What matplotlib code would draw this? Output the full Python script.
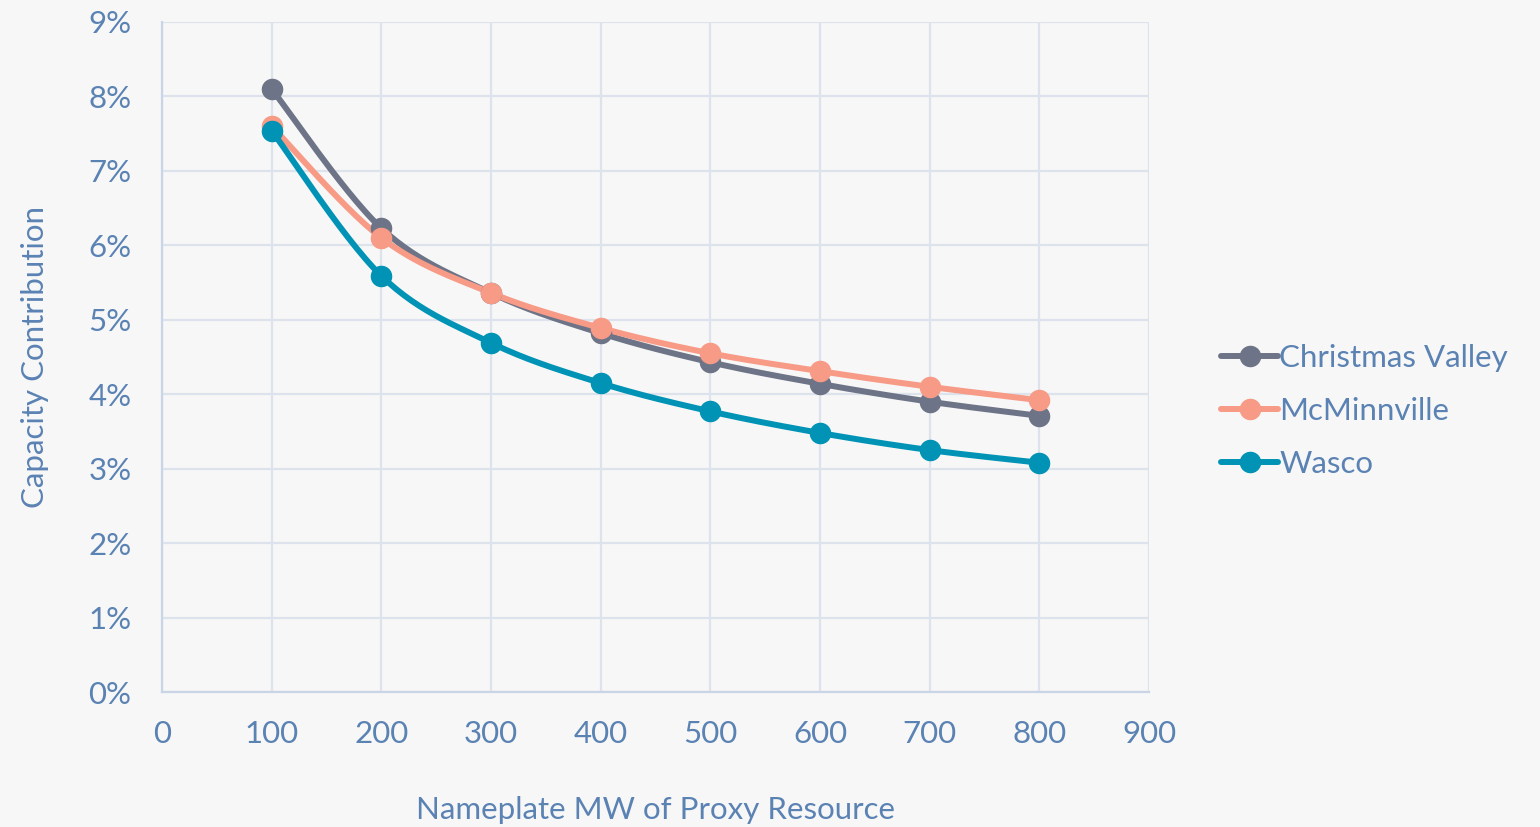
import numpy as np
import matplotlib.pyplot as plt
from matplotlib.ticker import FuncFormatter

# nameplate MW and capacity contribution (%)
mw = [100, 200, 300, 400, 500, 600, 700, 800]
christmas_valley = [8.10, 6.23, 5.36, 4.82, 4.43, 4.14, 3.90, 3.71]
mcminnville = [7.60, 6.10, 5.36, 4.89, 4.55, 4.31, 4.10, 3.92]
wasco = [7.54, 5.59, 4.69, 4.15, 3.77, 3.48, 3.25, 3.08]

series = [
    ("Christmas Valley", christmas_valley, "#6E7487"),
    ("McMinnville", mcminnville, "#F79A86"),
    ("Wasco", wasco, "#0093B5"),
]

text_color = "#5A82B3"
grid_color = "#DCE3ED"
bg = "#F7F7F7"

plt.rcParams['font.family'] = ['Lato', 'DejaVu Sans']


def smooth(x, y, n=30):
    # Catmull-Rom style smoothing, like spreadsheet "smoothed line"
    x = np.asarray(x, float)
    y = np.asarray(y, float)
    px = np.concatenate([[x[0]], x, [x[-1]]])
    py = np.concatenate([[y[0]], y, [y[-1]]])
    xs, ys = [], []
    for i in range(1, len(px) - 2):
        p0 = np.array([px[i - 1], py[i - 1]])
        p1 = np.array([px[i], py[i]])
        p2 = np.array([px[i + 1], py[i + 1]])
        p3 = np.array([px[i + 2], py[i + 2]])
        c1 = p1 + (p2 - p0) / 6
        c2 = p2 - (p3 - p1) / 6
        t = np.linspace(0, 1, n)[:, None]
        b = (1 - t) ** 3 * p1 + 3 * (1 - t) ** 2 * t * c1 + 3 * (1 - t) * t ** 2 * c2 + t ** 3 * p2
        xs.extend(b[:, 0])
        ys.extend(b[:, 1])
    return np.array(xs), np.array(ys)


fig = plt.figure(figsize=(15.4, 8.27), dpi=100, facecolor=bg)
ax = fig.add_axes([0.1052, 0.1632, 0.6409, 0.8102], facecolor=bg)

handles = []
for name, vals, col in series:
    sx, sy = smooth(mw, vals)
    ax.plot(sx, sy, color=col, lw=4.3, solid_capstyle='round', zorder=3)
    ax.plot(mw, vals, 'o', color=col, ms=14.5, zorder=4)
    h, = ax.plot([], [], color=col, lw=4.3, marker='o', ms=14.5, solid_capstyle='round')
    handles.append(h)

ax.set_xlim(0, 900)
ax.set_ylim(0, 9)
ax.set_xticks(range(0, 901, 100))
ax.set_yticks(range(0, 10))
ax.yaxis.set_major_formatter(FuncFormatter(lambda v, p: f"{int(v)}%"))
ax.grid(True, color=grid_color, lw=1.6, zorder=0)
ax.tick_params(length=0, labelsize=22.5, colors=text_color, pad=20)
ax.tick_params(axis='y', pad=22)
for s in ['top', 'right']:
    ax.spines[s].set_visible(False)
for s in ['left', 'bottom']:
    ax.spines[s].set_color("#C9D5E6")
    ax.spines[s].set_linewidth(1.6)

ax.set_xlabel("Nameplate MW of Proxy Resource", fontsize=22.5, color=text_color, labelpad=35)
ax.set_ylabel("Capacity Contribution", fontsize=22.5, color=text_color, labelpad=28)

fig.legend(handles, [s[0] for s in series], loc='center left',
           bbox_to_anchor=(0.785, 0.503), frameon=False, fontsize=22.5,
           labelcolor=text_color, handlelength=1.8, handletextpad=0.05,
           labelspacing=0.8, borderaxespad=0)

fig.savefig("out.png", dpi=100, facecolor=bg)
